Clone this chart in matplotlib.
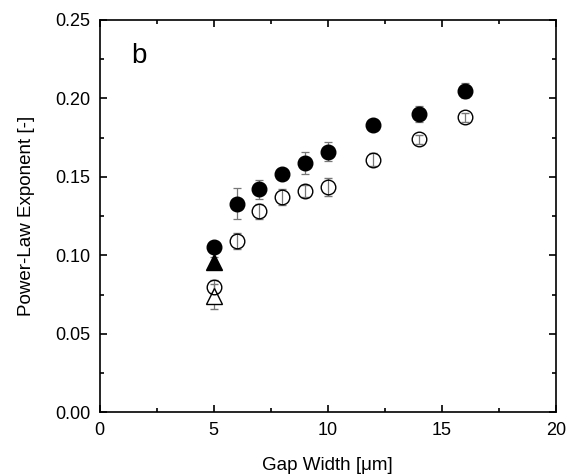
import numpy as np
import matplotlib.pyplot as plt
from matplotlib.ticker import MultipleLocator

plt.rcParams['font.family'] = ['Liberation Sans', 'DejaVu Sans']

# filled circles
gap = [5, 6, 7, 8, 9, 10, 12, 14, 16]
exp_filled = [0.105, 0.133, 0.142, 0.152, 0.159, 0.166, 0.183, 0.190, 0.205]
err_filled = [0.003, 0.010, 0.006, 0.002, 0.007, 0.006, 0.003, 0.005, 0.005]
# open circles
exp_open = [0.080, 0.109, 0.128, 0.137, 0.141, 0.1435, 0.161, 0.174, 0.188]
err_open = [0.004, 0.005, 0.005, 0.005, 0.004, 0.006, 0.004, 0.003, 0.003]
# triangles at 5 um
tri_x = [5]
tri_filled = [0.096]
tri_filled_err = [0.003]
tri_open = [0.074]
tri_open_err = [0.008]

fig = plt.figure(figsize=(5.7, 4.76), dpi=100)
ax = fig.add_axes([0.175, 0.134, 0.80, 0.824])

ekw = dict(ecolor='#777777', elinewidth=0.9, capsize=3, capthick=0.9, linestyle='none')
ax.errorbar(tri_x, tri_open, yerr=tri_open_err, marker='^', ms=11, mfc='white', mec='black', mew=1.0, **ekw)
ax.errorbar(gap, exp_open, yerr=err_open, marker='o', ms=10.5, mfc='none', mec='black', mew=1.0, **ekw)
ax.errorbar(tri_x, tri_filled, yerr=tri_filled_err, marker='^', ms=11, mfc='black', mec='black', **ekw)
ax.errorbar(gap, exp_filled, yerr=err_filled, marker='o', ms=10.5, mfc='black', mec='black', **ekw)

ax.set_xlim(0, 20)
ax.set_ylim(0, 0.25)
ax.xaxis.set_major_locator(MultipleLocator(5))
ax.xaxis.set_minor_locator(MultipleLocator(2.5))
ax.yaxis.set_major_locator(MultipleLocator(0.05))
ax.yaxis.set_minor_locator(MultipleLocator(0.025))
ax.yaxis.set_major_formatter(plt.FormatStrFormatter('%.2f'))
ax.tick_params(which='both', direction='in', top=True, right=True, labelsize=13)
ax.tick_params(which='major', length=5, width=1.2, pad=7)
ax.tick_params(which='minor', length=3, width=1.2)
for s in ax.spines.values():
    s.set_linewidth(1.2)

ax.set_xlabel('Gap Width [μm]', fontsize=13.5, labelpad=13)
ax.set_ylabel('Power-Law Exponent [-]', fontsize=13.5, labelpad=14)
ax.text(0.07, 0.89, 'b', transform=ax.transAxes, fontsize=20)

fig.savefig('out.png', dpi=100)
